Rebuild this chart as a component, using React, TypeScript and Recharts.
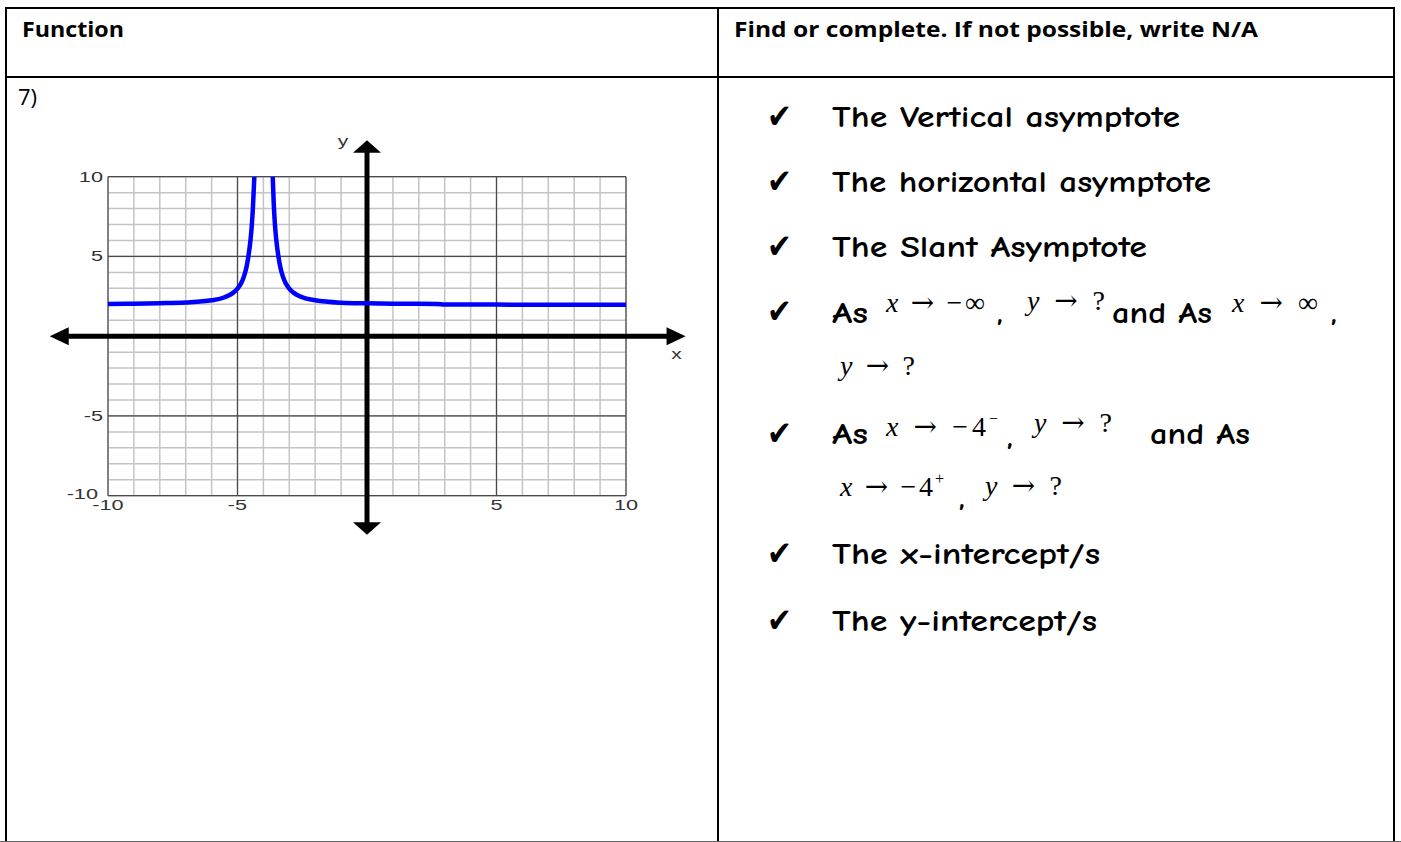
import React from 'react';
import { LineChart, Line, XAxis, YAxis, ReferenceLine } from 'recharts';

// ---- chart data ----
const gridValues = [-10, -9, -8, -7, -6, -5, -4, -3, -2, -1, 0, 1, 2, 3, 4, 5, 6, 7, 8, 9, 10];
const majorValues = [-10, -5, 5, 10];
const tickValues = [-10, -5, 5, 10];
const xArrowExtent = [-12.25, 12.3];
const yArrowExtent = [-12.45, 12.28];

const leftBranch = [
  { x: -10, y: 2.02 },
  { x: -9, y: 2.04 },
  { x: -8, y: 2.07 },
  { x: -7, y: 2.12 },
  { x: -6, y: 2.25 },
  { x: -5.5, y: 2.44 },
  { x: -5, y: 2.98 },
  { x: -4.85, y: 3.35 },
  { x: -4.75, y: 3.75 },
  { x: -4.65, y: 4.35 },
  { x: -4.58, y: 5.0 },
  { x: -4.5, y: 6.0 },
  { x: -4.45, y: 6.9 },
  { x: -4.4, y: 8.2 },
  { x: -4.35, y: 10 },
];

const rightBranch = [
  { x: -3.64, y: 10 },
  { x: -3.6, y: 8.3 },
  { x: -3.55, y: 6.9 },
  { x: -3.5, y: 6.0 },
  { x: -3.42, y: 5.0 },
  { x: -3.35, y: 4.35 },
  { x: -3.25, y: 3.75 },
  { x: -3.15, y: 3.35 },
  { x: -3, y: 2.98 },
  { x: -2.5, y: 2.44 },
  { x: -2, y: 2.25 },
  { x: -1, y: 2.1 },
  { x: 0, y: 2.06 },
  { x: 1, y: 2.04 },
  { x: 2, y: 2.03 },
  { x: 2.7, y: 2.02 },
  { x: 3, y: 1.99 },
  { x: 5, y: 1.98 },
  { x: 10, y: 1.97 },
];

const axisLetters = ['x', 'y'];

const COMIC = '"Comic Sans MS", "Comic Neue", "DejaVu Sans", sans-serif';
const SERIF = '"Liberation Serif", "Times New Roman", serif';
const ARROWFONT = '"DejaVu Serif", "DejaVu Sans", serif';
const HEAD = '"Open Sans", "Liberation Sans", sans-serif';
const TICKFONT = '"Liberation Sans", Arial, sans-serif';

const YTick = (props: any) => {
  const { x, y, payload } = props;
  const isBottom = payload.value === -10;
  return (
    <g transform={`translate(${isBottom ? x - 5 : x},${y}) scale(1.55,1)`}>
      <text x={0} y={0} dy={isBottom ? 3 : 5} textAnchor="end" fontFamily={TICKFONT} fontSize={14} fill="#333">
        {payload.value}
      </text>
    </g>
  );
};

const XTick = (props: any) => {
  const { x, y, payload } = props;
  return (
    <g transform={`translate(${x},${y}) scale(1.55,1)`}>
      <text x={0} y={0} dy={14} textAnchor="middle" fontFamily={TICKFONT} fontSize={14} fill="#333">
        {payload.value}
      </text>
    </g>
  );
};

const HArrow = (p: any) => {
  const xa = Math.min(p.x1, p.x2);
  const xb = Math.max(p.x1, p.x2);
  const y = p.y1;
  const L = 19;
  const H = 9;
  return (
    <g>
      <line x1={xa + L - 1} y1={y} x2={xb - L + 1} y2={y} stroke="#000" strokeWidth={5} />
      <polygon points={`${xa},${y} ${xa + L},${y - H} ${xa + L},${y + H}`} fill="#000" />
      <polygon points={`${xb},${y} ${xb - L},${y - H} ${xb - L},${y + H}`} fill="#000" />
      <g transform={`translate(${xb - 9},${y + 23}) scale(1.5,1)`}>
        <text x={0} y={0} textAnchor="middle" fontFamily={TICKFONT} fontSize={14} fill="#333">
          {axisLetters[0]}
        </text>
      </g>
    </g>
  );
};

const VArrow = (p: any) => {
  const ya = Math.min(p.y1, p.y2);
  const yb = Math.max(p.y1, p.y2);
  const x = p.x1;
  const L = 12.5;
  const W = 14;
  return (
    <g>
      <line x1={x} y1={ya + L - 1} x2={x} y2={yb - L + 1} stroke="#000" strokeWidth={5} />
      <polygon points={`${x},${ya} ${x - W},${ya + L} ${x + W},${ya + L}`} fill="#000" />
      <polygon points={`${x},${yb} ${x - W},${yb - L} ${x + W},${yb - L}`} fill="#000" />
      <g transform={`translate(${x - 24},${ya + 6}) scale(1.5,1)`}>
        <text x={0} y={0} textAnchor="middle" fontFamily={TICKFONT} fontSize={14} fill="#333">
          {axisLetters[1]}
        </text>
      </g>
    </g>
  );
};

const Check = ({ y }: { y: number }) => (
  <text x={767} y={y} fontFamily='"DejaVu Sans", sans-serif' fontSize={34} fill="#000" textLength={25} lengthAdjust="spacingAndGlyphs">
    ✔
  </text>
);

const Comic = ({ x, y, len, children }: any) => (
  <text
    x={x}
    y={y}
    fontFamily={COMIC}
    fontSize={30}
    fontWeight={600}
    fill="#000"
    textLength={len}
    lengthAdjust={len ? 'spacingAndGlyphs' : undefined}
  >
    {children}
  </text>
);

const MathT = ({ x, y, len, children }: any) => (
  <text x={x} y={y} fontFamily={SERIF} fontSize={28} fill="#000" textLength={len} lengthAdjust="spacing">
    {children}
  </text>
);

const I = ({ children }: any) => <tspan fontStyle="italic">{children}</tspan>;
const Ar = () => (
  <tspan fontFamily={ARROWFONT} fontSize={28}>
    {'→'}
  </tspan>
);

export default function App() {
  return (
    <div
      style={{
        position: 'absolute',
        left: 0,
        top: 0,
        width: 1401,
        height: 842,
        background: '#fff',
        overflow: 'hidden',
      }}
    >
      <svg width={1401} height={842} style={{ position: 'absolute', left: 0, top: 0 }}>
        {/* table */}
        <line x1={5} y1={8} x2={1395} y2={8} stroke="#000" strokeWidth={2} />
        <line x1={6} y1={7} x2={6} y2={842} stroke="#000" strokeWidth={2} />
        <line x1={1394} y1={7} x2={1394} y2={842} stroke="#000" strokeWidth={2} />
        <line x1={5} y1={77} x2={1395} y2={77} stroke="#000" strokeWidth={2} />
        <line x1={718} y1={7} x2={718} y2={842} stroke="#000" strokeWidth={2} />
        <line x1={0} y1={841.5} x2={1401} y2={841.5} stroke="#666" strokeWidth={1} />

        <text x={22} y={37} fontFamily={HEAD} fontWeight={700} fontSize={22} textLength={102} lengthAdjust="spacingAndGlyphs">
          Function
        </text>
        <text x={734} y={37} fontFamily={HEAD} fontWeight={700} fontSize={22} textLength={524} lengthAdjust="spacingAndGlyphs">
          Find or complete. If not possible, write N/A
        </text>
        <text x={18} y={105} fontFamily={HEAD} fontSize={22}>
          7)
        </text>

        {/* right column */}
        <Check y={128} />
        <Comic x={832} y={127} len={348}>The Vertical asymptote</Comic>
        <Check y={193} />
        <Comic x={832} y={192} len={379}>The horizontal asymptote</Comic>
        <Check y={258} />
        <Comic x={832} y={257} len={315}>The Slant Asymptote</Comic>

        <Check y={323} />
        <Comic x={832} y={323} len={36}>As</Comic>
        <MathT x={886} y={312} len={99}>
          <I>x</I> <Ar /> −∞
        </MathT>
        <Comic x={997} y={322}>,</Comic>
        <MathT x={1027} y={310} len={78}>
          <I>y</I> <Ar /> ?
        </MathT>
        <Comic x={1112} y={323} len={100}>and As</Comic>
        <MathT x={1232} y={312} len={86}>
          <I>x</I> <Ar /> ∞
        </MathT>
        <Comic x={1331} y={322}>,</Comic>
        <MathT x={840} y={375} len={75}>
          <I>y</I> <Ar /> ?
        </MathT>

        <Check y={445} />
        <Comic x={832} y={444} len={36}>As</Comic>
        <MathT x={886} y={436} len={100}>
          <I>x</I> <Ar /> −4
        </MathT>
        <text x={989} y={424} fontFamily={SERIF} fontSize={16}>−</text>
        <Comic x={1007} y={446}>,</Comic>
        <MathT x={1034} y={432} len={78}>
          <I>y</I> <Ar /> ?
        </MathT>
        <Comic x={1150} y={444} len={100}>and As</Comic>
        <MathT x={840} y={496} len={93}>
          <I>x</I> <Ar /> −4
        </MathT>
        <text x={935} y={484} fontFamily={SERIF} fontSize={16}>+</text>
        <Comic x={959} y={507}>,</Comic>
        <MathT x={985} y={495} len={77}>
          <I>y</I> <Ar /> ?
        </MathT>

        <Check y={565} />
        <Comic x={832} y={564} len={268}>The x-intercept/s</Comic>
        <Check y={632} />
        <Comic x={832} y={631} len={265}>The y-intercept/s</Comic>
      </svg>

      <div style={{ position: 'absolute', left: 10, top: 100 }}>
        <LineChart width={700} height={460} margin={{ top: 76.7, right: 84, bottom: 34.3, left: 58 }}>
          <XAxis
            dataKey="x"
            type="number"
            domain={[-10, 10]}
            ticks={tickValues}
            interval={0}
            tick={(p: any) => <XTick {...p} />}
            tickLine={false}
            axisLine={false}
            tickSize={0}
            tickMargin={0}
            height={30}
            allowDataOverflow
          />
          <YAxis
            type="number"
            domain={[-10, 10]}
            ticks={tickValues}
            interval={0}
            tick={(p: any) => <YTick {...p} />}
            tickLine={false}
            axisLine={false}
            tickSize={0}
            tickMargin={5}
            width={40}
            allowDataOverflow
          />
          {gridValues.map((v) => (
            <ReferenceLine key={'gx' + v} x={v} stroke="#c4c4c4" strokeWidth={1.5} zIndex={100} />
          ))}
          {gridValues.map((v) => (
            <ReferenceLine key={'gy' + v} y={v} stroke="#c4c4c4" strokeWidth={1.5} zIndex={100} />
          ))}
          {majorValues.map((v) => (
            <ReferenceLine key={'mx' + v} x={v} stroke="#4a4a4a" strokeWidth={1.2} zIndex={110} />
          ))}
          {majorValues.map((v) => (
            <ReferenceLine key={'my' + v} y={v} stroke="#4a4a4a" strokeWidth={1.2} zIndex={110} />
          ))}
          <ReferenceLine
            segment={[
              { x: xArrowExtent[0], y: 0 },
              { x: xArrowExtent[1], y: 0 },
            ]}
            ifOverflow="visible"
            shape={HArrow}
            zIndex={300}
          />
          <ReferenceLine
            segment={[
              { x: 0, y: yArrowExtent[0] },
              { x: 0, y: yArrowExtent[1] },
            ]}
            ifOverflow="visible"
            shape={VArrow}
            zIndex={300}
          />
          <Line
            data={leftBranch}
            dataKey="y"
            type="monotone"
            stroke="#0000ff"
            strokeWidth={4.5}
            dot={false}
            activeDot={false}
            isAnimationActive={false}
            zIndex={400}
          />
          <Line
            data={rightBranch}
            dataKey="y"
            type="monotone"
            stroke="#0000ff"
            strokeWidth={4.5}
            dot={false}
            activeDot={false}
            isAnimationActive={false}
            zIndex={400}
          />
        </LineChart>
      </div>
    </div>
  );
}
